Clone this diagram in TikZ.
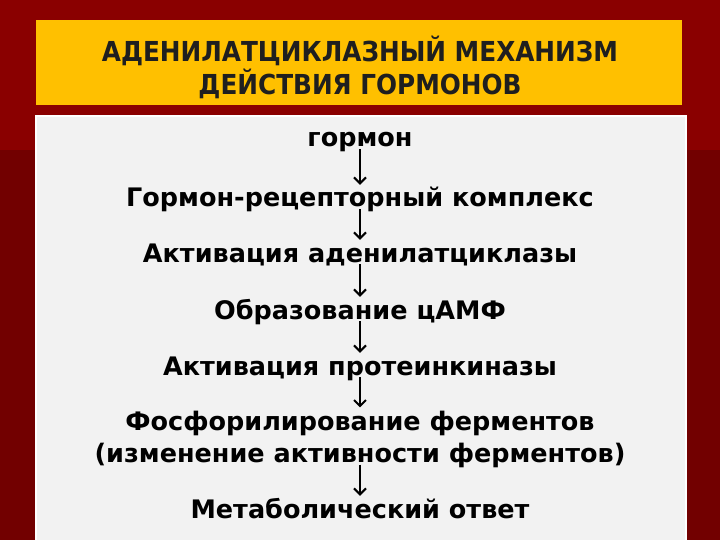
\documentclass[tikz,border=0pt]{standalone}
\usepackage{fontspec}
\setmainfont{DejaVu Sans}
\newfontfamily\condfont{DejaVu Sans Condensed}
\usetikzlibrary{arrows.meta}
\definecolor{bgred}{HTML}{720000}
\definecolor{bgtop}{HTML}{8A0000}
\definecolor{ttlyellow}{HTML}{FFC000}
\definecolor{panel}{HTML}{F2F2F2}
\tikzset{
  stepbase/.style={font=\bfseries\fontsize{25.5}{32}\selectfont, text=black, inner sep=0pt, align=center, anchor=base},
  stepnode/.style={stepbase, text height=19pt, text depth=5pt},
  titlenode/.style={font=\condfont\bfseries\fontsize{27.5}{33}\selectfont, text=black!88, inner sep=0pt, align=center, anchor=base},
  flow/.style={-{Straight Barb[length=6pt,width=12pt,line width=2pt]}, line width=2pt, black, shorten <=-3pt, shorten >=3pt}
}
\begin{document}
\begin{tikzpicture}[x=1pt,y=-1pt]
\useasboundingbox (0,0) rectangle (720,540);
\fill[bgred] (0,0) rectangle (720,540);
\fill[bgtop] (0,0) rectangle (720,150);
\fill[ttlyellow] (36,20) rectangle (682,105);
\fill[white] (35,115) rectangle (687,540);
\fill[panel] (37,117) rectangle (685,540);
\node[titlenode] (title) at (360,95) {АДЕНИЛАТЦИКЛАЗНЫЙ МЕХАНИЗМ\\ДЕЙСТВИЯ ГОРМОНОВ};
\node[stepnode] (s1) at (360,147) {гормон};
\node[stepnode] (s2) at (360,207) {Гормон-рецепторный комплекс};
\node[stepnode] (s3) at (360,262) {Активация аденилатциклазы};
\node[stepnode] (s4) at (360,319) {Образование цАМФ};
\node[stepnode] (s5) at (360,375) {Активация протеинкиназы};
\node[stepbase] (s6) at (360,462) {Фосфорилирование ферментов\\(изменение активности ферментов)};
\node[stepnode] (s7) at (360,518) {Метаболический ответ};
\draw[flow] (s1) -- (s2);
\draw[flow] (s2) -- (s3);
\draw[flow] (s3) -- (s4);
\draw[flow] (s4) -- (s5);
\draw[flow] (s5) -- (s6);
\draw[flow] (s6) -- (s7);
\end{tikzpicture}
\end{document}
